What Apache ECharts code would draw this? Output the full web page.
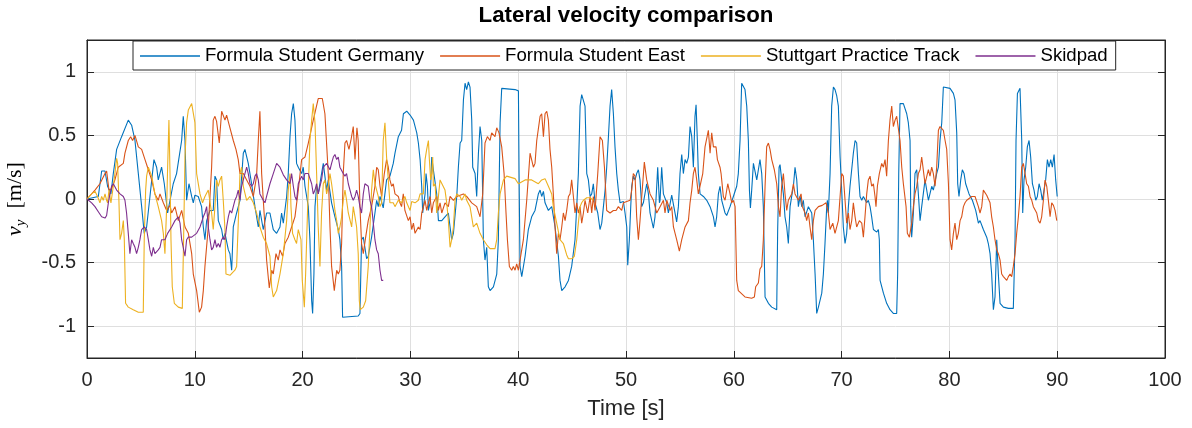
<!DOCTYPE html>
<html>
<head>
<meta charset="utf-8">
<script src="https://cdn.jsdelivr.net/npm/echarts@6/dist/echarts.min.js"></script>
<style>html,body{margin:0;padding:0;background:#fff}#chart{width:1192px;height:428px}</style>
</head>
<body>
<div id="chart"></div>
<script>
// ---- data (time [s], v_y [m/s]) ----
const xTicks = [0,10,20,30,40,50,60,70,80,90,100];
const yTicks = [-1,-0.5,0,0.5,1];
const seriesNames = ['Formula Student Germany','Formula Student East','Stuttgart Practice Track','Skidpad'];
const seriesColors = ['#0072BD','#D95319','#EDB120','#7E2F8E'];

const fsg = [[0,0],[1.05,0.02],[1.36,0.22],[1.67,0.22],[1.91,0.10],[2.22,0.04],[2.44,0.20],[2.75,0.39],[3.21,0.49],[3.83,0.62],[4.14,0.58],[4.45,0.46],[4.76,0.20],[5.07,-0.06],[5.31,-0.27],[5.53,-0.22],[5.84,0.02],[6.21,0.31],[6.46,0.25],[6.61,0.15],[6.92,0.25],[7.17,0.12],[7.48,-0.11],[7.70,-0.01],[8.00,0.12],[8.31,0.20],[8.78,0.46],[8.93,0.65],[9.09,0.46],[9.24,-0.01],[9.46,0.12],[9.71,0.02],[9.86,-0.03],[10.01,0.03],[10.32,0.02],[10.63,-0.06],[10.79,-0.22],[10.94,-0.32],[11.10,-0.17],[11.41,-0.09],[11.71,-0.09],[11.87,0.18],[12.02,0.15],[12.18,-0.17],[12.49,-0.24],[12.64,-0.32],[12.80,-0.27],[13.11,-0.40],[13.26,-0.43],[13.42,-0.56],[13.57,-0.22],[13.88,-0.11],[14.19,-0.01],[14.50,0.36],[14.65,0.39],[14.96,0.28],[15.27,0.12],[15.58,-0.06],[15.89,-0.22],[16.04,-0.09],[16.35,-0.24],[16.66,-0.11],[16.97,-0.11],[17.28,-0.24],[17.59,-0.27],[17.90,-0.22],[18.05,-0.11],[18.21,-0.19],[18.52,0.02],[18.67,0.20],[18.83,0.49],[18.98,0.67],[19.14,0.75],[19.29,0.62],[19.44,0.28],[19.60,0.25],[19.91,0.20],[20.06,0.25],[20.22,0.10],[20.53,-0.06],[20.68,-0.32],[20.84,-0.80],[20.93,-0.90],[21.05,-0.59],[21.15,-0.06],[21.30,0.10],[21.45,0.04],[21.76,0.20],[21.92,0.28],[22.23,0.07],[22.38,0.15],[22.69,-0.03],[23.00,-0.14],[23.31,-0.24],[23.46,-0.32],[23.62,-0.53],[23.71,-0.93],[25.16,-0.92],[25.32,-0.90],[25.47,-0.32],[25.63,-0.30],[25.94,-0.47],[26.09,-0.45],[26.40,-0.30],[26.71,-0.11],[26.87,-0.01],[27.02,-0.06],[27.18,0.02],[27.48,-0.07],[27.79,0.15],[28.10,0.18],[28.41,0.28],[28.57,0.36],[28.88,0.49],[29.18,0.54],[29.35,0.67],[29.66,0.69],[29.97,0.66],[30.28,0.62],[30.59,0.52],[30.74,0.44],[30.90,0.31],[31.05,0.10],[31.14,-0.11],[31.36,0.04],[31.45,0.20],[31.58,0.10],[31.67,-0.09],[31.82,-0.03],[31.98,0.33],[32.13,0.23],[32.44,0.04],[32.60,-0.17],[32.91,-0.17],[33.21,-0.14],[33.52,-0.11],[33.68,-0.22],[33.83,-0.32],[33.99,-0.27],[34.30,0.02],[34.45,0.25],[34.61,0.44],[34.76,0.46],[34.92,0.78],[35.07,0.91],[35.22,0.86],[35.38,0.92],[35.53,0.88],[35.69,0.62],[35.78,0.25],[36.00,0.20],[36.15,0.02],[36.31,0.36],[36.46,0.57],[36.62,0.46],[36.77,-0.32],[36.92,-0.48],[37.08,-0.38],[37.23,-0.69],[37.39,-0.72],[37.70,-0.69],[38.01,-0.59],[38.16,-0.32],[38.25,0.20],[38.32,0.60],[38.47,0.87],[39.71,0.86],[40.02,0.85],[40.08,0.20],[40.17,-0.53],[40.33,-0.61],[40.64,-0.45],[40.94,-0.24],[41.25,-0.14],[41.56,-0.09],[41.87,0.04],[42.03,0.07],[42.18,0.02],[42.34,0.06],[42.49,-0.03],[42.80,-0.09],[43.11,-0.06],[43.42,-0.22],[43.73,-0.45],[43.88,-0.64],[44.04,-0.72],[44.35,-0.69],[44.66,-0.64],[44.96,-0.53],[45.27,-0.32],[45.43,-0.06],[45.58,0.20],[45.74,0.73],[45.89,0.82],[46.20,0.73],[46.36,0.20],[46.51,0.15],[46.67,0.02],[46.82,0.04],[46.97,0.12],[47.13,-0.03],[47.38,-0.11],[47.59,-0.24],[47.75,-0.19],[48.06,0.07],[48.21,0.25],[48.37,0.49],[48.52,0.73],[48.67,0.86],[48.83,0.67],[48.98,0.41],[49.14,0.20],[49.29,0.07],[49.45,-0.03],[49.76,-0.02],[49.91,-0.11],[50.07,-0.22],[50.16,-0.52],[50.31,-0.32],[50.44,-0.06],[50.53,0.10],[50.68,0.18],[50.84,0.15],[50.99,0.20],[51.15,0.23],[51.30,0.15],[51.46,-0.06],[51.61,-0.03],[51.92,0.12],[52.08,0.04],[52.23,-0.11],[52.54,-0.23],[52.69,-0.14],[52.85,0.10],[52.94,0.25],[53.10,-0.03],[53.16,-0.01],[53.31,0.25],[53.47,0.04],[53.78,-0.03],[53.93,-0.11],[54.24,0.03],[54.40,0.02],[54.70,-0.18],[54.86,-0.06],[55.01,0.20],[55.17,0.35],[55.32,0.20],[55.48,0.31],[55.63,0.28],[55.79,0.33],[55.94,0.57],[56.10,0.49],[56.25,0.25],[56.40,0.65],[56.50,0.74],[56.62,0.46],[56.71,0.20],[56.87,0.04],[57.18,0.02],[57.49,-0.01],[57.80,-0.06],[58.11,-0.14],[58.26,-0.22],[58.41,-0.14],[58.57,0.04],[58.72,0.10],[58.88,-0.01],[59.19,-0.11],[59.34,-0.13],[59.65,-0.06],[59.96,0.02],[60.27,0.10],[60.42,0.20],[60.58,0.46],[60.73,0.91],[60.89,0.91],[61.04,0.86],[61.20,0.73],[61.35,0.46],[61.45,0.07],[61.54,-0.07],[61.66,0.07],[61.82,0.28],[61.97,0.28],[62.13,0.15],[62.28,0.23],[62.43,0.31],[62.59,0.20],[62.74,-0.06],[62.90,-0.77],[63.21,-0.82],[63.52,-0.85],[63.98,-0.87],[64.07,-0.24],[64.20,0.25],[64.29,0.27],[64.44,0.15],[64.60,0.04],[64.75,-0.14],[64.91,-0.22],[65.06,-0.35],[65.22,-0.06],[65.37,0.02],[65.53,0.10],[65.68,0.25],[65.84,0.15],[65.99,-0.06],[66.15,0.02],[66.30,-0.06],[66.45,-0.01],[66.61,-0.14],[66.92,-0.06],[67.23,-0.11],[67.38,-0.32],[67.54,-0.59],[67.69,-0.90],[67.85,-0.85],[68.16,-0.74],[68.31,-0.59],[68.46,-0.35],[68.62,-0.06],[68.68,-0.01],[68.77,-0.11],[68.93,0.20],[69.08,0.73],[69.24,0.88],[69.39,0.86],[69.55,0.81],[69.70,0.73],[69.86,0.33],[70.01,0.07],[70.16,-0.22],[70.32,-0.35],[70.47,-0.27],[70.63,-0.06],[70.78,0.10],[71.09,0.36],[71.25,0.46],[71.40,0.44],[71.56,0.20],[71.71,0.02],[71.87,-0.01],[72.02,0.02],[72.33,-0.03],[72.48,-0.01],[72.64,-0.06],[72.79,-0.14],[72.95,-0.24],[73.26,-0.26],[73.41,-0.24],[73.50,-0.32],[73.57,-0.64],[73.88,-0.74],[74.18,-0.82],[74.49,-0.87],[74.80,-0.90],[75.11,-0.90],[75.20,-0.59],[75.30,0.20],[75.42,0.75],[75.73,0.75],[76.04,0.67],[76.19,0.60],[76.35,0.46],[76.41,-0.06],[76.50,-0.30],[76.66,-0.11],[76.81,0.20],[76.97,0.23],[77.12,0.04],[77.28,-0.17],[77.43,-0.06],[77.74,0.15],[78.05,-0.01],[78.36,0.10],[78.51,0.07],[78.82,0.20],[78.98,0.25],[79.13,0.46],[79.29,0.60],[79.44,0.88],[80.06,0.87],[80.37,0.83],[80.52,0.78],[80.68,0.52],[80.77,0.12],[80.89,0.02],[81.05,0.15],[81.20,0.23],[81.36,0.20],[81.51,0.12],[81.82,0.04],[82.13,-0.01],[82.44,-0.09],[82.69,-0.19],[82.84,-0.17],[83.15,-0.24],[83.46,-0.30],[83.61,-0.35],[83.77,-0.43],[83.92,-0.59],[84.08,-0.87],[84.23,-0.77],[84.39,-0.32],[84.54,-0.59],[84.70,-0.82],[85.01,-0.85],[85.47,-0.86],[85.93,-0.86],[86.09,-0.32],[86.18,0.46],[86.31,0.83],[86.55,0.87],[86.71,0.46],[86.80,-0.11],[86.92,0.15],[87.08,0.25],[87.23,0.41],[87.39,0.46],[87.54,0.33],[87.70,0.12],[87.85,0.07],[88.01,-0.01],[88.16,0.02],[88.32,0.12],[88.47,0.07],[88.62,-0.01],[88.78,0.07],[88.93,0.15],[89.09,0.31],[89.24,0.25],[89.40,0.31],[89.55,0.25],[89.71,0.35],[89.86,0.15],[90.00,0.02]];

const fse = [[0,0],[0.74,0.07],[1.20,0.12],[1.67,0.20],[1.82,0.22],[2.04,0.07],[2.28,0.08],[2.59,0.15],[2.90,0.25],[3.37,0.28],[3.52,0.36],[3.83,0.46],[4.05,0.49],[4.23,0.46],[4.45,0.50],[4.76,0.41],[5.07,0.39],[5.38,0.31],[5.69,0.23],[6.00,0.15],[6.30,0.04],[6.61,-0.01],[6.77,0.04],[7.08,-0.03],[7.39,-0.09],[7.70,-0.05],[7.85,-0.11],[8.16,-0.06],[8.47,-0.17],[8.78,-0.09],[9.09,-0.22],[9.40,-0.27],[9.71,-0.43],[9.86,-0.59],[10.17,-0.72],[10.42,-0.89],[10.63,-0.85],[10.79,-0.72],[10.94,-0.53],[11.25,-0.22],[11.56,0.25],[11.71,0.62],[11.87,0.65],[12.02,0.61],[12.27,0.44],[12.49,0.69],[12.80,0.62],[12.95,0.66],[13.11,0.65],[13.26,0.56],[13.42,0.57],[13.57,0.46],[13.82,0.39],[14.03,0.31],[14.19,0.20],[14.50,0.20],[14.81,0.15],[15.12,0.10],[15.43,0.02],[15.73,0.18],[15.89,0.46],[16.04,0.69],[16.20,0.20],[16.51,-0.22],[16.66,-0.48],[16.91,-0.70],[17.13,-0.56],[17.28,-0.59],[17.53,-0.43],[17.74,-0.48],[17.90,-0.40],[18.15,-0.45],[18.36,-0.35],[18.67,-0.30],[18.98,-0.22],[19.29,-0.14],[19.60,0.07],[19.91,0.31],[20.22,0.33],[20.53,0.44],[20.99,0.62],[21.45,0.79],[21.83,0.79],[22.07,0.67],[22.38,0.20],[22.54,-0.22],[22.69,-0.53],[22.94,-0.72],[23.16,-0.56],[23.31,-0.59],[23.46,-0.56],[23.62,-0.35],[23.77,0.20],[23.93,0.44],[24.08,0.46],[24.30,0.39],[24.48,0.46],[24.70,0.57],[24.86,0.31],[25.04,0.56],[25.16,0.46],[25.32,-0.06],[25.47,-0.35],[25.63,-0.43],[25.85,-0.30],[26.09,-0.17],[26.40,-0.06],[26.71,0.10],[26.87,0.25],[27.02,0.23],[27.18,0.10],[27.33,0.02],[27.58,0.20],[27.79,0.31],[27.95,0.25],[28.10,0.15],[28.26,0.10],[28.41,0.12],[28.57,0.04],[28.88,0.02],[29.03,-0.03],[29.18,-0.06],[29.34,0.04],[29.49,-0.09],[29.81,-0.17],[29.97,-0.14],[30.12,-0.24],[30.28,-0.19],[30.43,-0.27],[30.74,-0.22],[30.90,-0.24],[31.05,-0.11],[31.36,-0.01],[31.51,-0.09],[31.82,0.02],[31.98,-0.11],[32.13,-0.03],[32.44,0.02],[32.60,-0.09],[32.75,-0.03],[32.91,-0.11],[33.21,-0.03],[33.52,-0.06],[33.68,0.02],[33.99,-0.01],[34.30,0.02],[34.92,0.04],[35.22,0.02],[35.38,0.03],[35.69,-0.03],[36.15,-0.06],[36.46,-0.14],[36.71,0.04],[36.92,0.44],[37.14,0.49],[37.39,0.46],[37.54,0.52],[37.85,0.49],[38.01,0.56],[38.22,0.52],[38.47,0.41],[38.69,0.20],[38.87,-0.11],[39.00,-0.32],[39.18,-0.53],[39.40,-0.56],[39.55,-0.53],[39.71,-0.56],[39.86,-0.51],[40.02,-0.56],[40.17,-0.48],[40.48,-0.32],[40.79,-0.01],[41.10,0.36],[41.25,0.36],[41.41,0.25],[41.56,0.28],[41.72,0.46],[42.03,0.65],[42.18,0.67],[42.34,0.49],[42.49,0.67],[42.65,0.69],[42.80,0.62],[42.95,0.39],[43.11,0.25],[43.26,0.04],[43.42,-0.22],[43.57,-0.43],[43.73,-0.27],[43.88,-0.32],[44.04,-0.22],[44.19,-0.11],[44.35,-0.17],[44.50,-0.09],[44.66,0.02],[44.81,0.04],[44.96,0.15],[45.12,0.02],[45.27,-0.11],[45.43,-0.03],[45.58,-0.11],[45.74,-0.06],[45.89,-0.19],[46.05,-0.11],[46.20,-0.01],[46.45,-0.11],[46.67,0.02],[46.82,-0.11],[46.97,0.02],[47.13,-0.09],[47.38,0.20],[47.59,0.49],[47.81,0.46],[48.00,0.25],[48.21,-0.09],[48.52,-0.11],[48.83,-0.09],[49.08,-0.09],[49.29,-0.06],[49.60,-0.09],[49.76,-0.03],[50.38,-0.01],[50.53,0.07],[50.68,0.20],[50.84,0.18],[50.99,-0.14],[51.15,-0.32],[51.30,-0.17],[51.46,0.02],[51.70,0.29],[51.92,0.15],[52.23,0.04],[52.54,-0.01],[52.85,-0.11],[53.16,-0.06],[53.47,-0.01],[53.62,-0.11],[53.78,-0.01],[54.09,-0.09],[54.24,-0.06],[54.40,-0.22],[54.70,-0.32],[54.95,-0.41],[55.17,-0.32],[55.48,-0.22],[55.79,-0.17],[55.94,-0.03],[56.10,0.07],[56.25,0.20],[56.40,0.25],[56.56,0.15],[56.71,0.04],[56.87,0.04],[57.12,0.20],[57.33,0.41],[57.64,0.54],[57.80,0.36],[57.95,0.52],[58.11,0.41],[58.35,0.41],[58.48,0.31],[58.72,0.25],[58.82,0.20],[59.03,0.02],[59.19,-0.01],[59.44,0.12],[59.65,0.04],[59.81,-0.03],[59.96,-0.01],[60.12,-0.06],[60.27,-0.64],[60.42,-0.72],[61.04,-0.77],[61.66,-0.78],[61.91,-0.77],[62.03,-0.69],[62.28,-0.66],[62.43,-0.55],[62.59,-0.53],[62.74,-0.32],[62.90,0.10],[63.05,0.41],[63.21,0.44],[63.36,0.39],[63.52,0.31],[63.76,0.23],[63.98,0.12],[64.14,-0.06],[64.29,-0.14],[64.44,0.10],[64.60,0.20],[64.75,0.04],[64.91,-0.09],[65.06,-0.01],[65.37,0.04],[65.53,0.12],[65.68,0.04],[65.99,-0.01],[66.24,0.04],[66.36,-0.06],[66.61,-0.11],[66.76,-0.17],[66.92,-0.11],[67.07,-0.22],[67.23,-0.32],[67.38,-0.17],[67.54,-0.09],[67.85,-0.06],[68.20,-0.05],[68.56,-0.03],[68.77,-0.11],[68.93,-0.24],[69.18,-0.19],[69.39,-0.27],[69.70,-0.17],[69.86,0.02],[70.01,0.20],[70.16,0.18],[70.32,-0.01],[70.47,-0.19],[70.63,-0.11],[70.78,-0.24],[70.94,-0.17],[71.09,-0.03],[71.25,-0.14],[71.40,-0.22],[71.65,-0.17],[71.87,-0.19],[72.02,-0.30],[72.17,-0.14],[72.33,0.04],[72.48,0.15],[72.64,0.18],[72.79,0.10],[72.95,0.12],[73.10,0.02],[73.19,-0.06],[73.32,0.10],[73.50,0.20],[73.72,0.28],[73.88,0.25],[74.03,0.31],[74.18,0.18],[74.34,0.46],[74.49,0.62],[74.65,0.73],[74.80,0.57],[74.96,0.62],[75.11,0.65],[75.27,0.64],[75.42,0.46],[75.58,0.25],[75.73,0.12],[75.98,-0.06],[76.10,-0.27],[76.29,-0.30],[76.50,-0.19],[76.66,-0.06],[76.81,0.04],[76.97,0.10],[77.12,0.20],[77.28,0.23],[77.43,0.33],[77.59,0.33],[77.74,0.12],[78.05,0.23],[78.20,0.18],[78.36,0.25],[78.51,0.20],[78.67,0.10],[78.82,0.25],[78.98,0.54],[79.13,0.57],[79.29,0.58],[79.44,0.54],[79.60,0.46],[79.75,0.39],[79.91,0.12],[80.06,-0.32],[80.21,-0.40],[80.37,-0.27],[80.52,-0.19],[80.68,-0.32],[80.83,-0.27],[80.99,-0.17],[81.14,-0.14],[81.30,-0.06],[81.45,-0.03],[81.61,-0.01],[82.07,0.02],[82.38,0.02],[82.69,-0.06],[82.84,-0.11],[83.00,-0.06],[83.15,0.07],[83.31,0.08],[83.46,0.03],[83.61,0.04],[83.77,-0.03],[83.92,-0.14],[84.08,-0.22],[84.23,-0.32],[84.39,-0.40],[84.54,-0.43],[84.70,-0.48],[84.85,-0.59],[85.01,-0.61],[85.16,-0.61],[85.32,-0.64],[85.47,-0.61],[85.63,-0.59],[85.78,-0.61],[85.93,-0.53],[86.09,-0.43],[86.24,-0.27],[86.40,-0.14],[86.55,0.02],[86.71,0.25],[86.86,0.28],[87.02,0.20],[87.17,0.12],[87.33,0.10],[87.48,0.02],[87.64,-0.01],[87.79,-0.06],[88.10,-0.11],[88.25,-0.17],[88.41,-0.19],[88.56,-0.14],[88.72,-0.01],[88.87,0.15],[89.03,0.10],[89.18,-0.01],[89.34,-0.14],[89.49,-0.03],[89.65,-0.05],[89.80,-0.09],[89.96,-0.17]];

const spt = [[0,0],[0.43,0.04],[0.74,0.06],[0.98,0.02],[1.20,-0.03],[1.36,0.02],[1.51,-0.01],[1.67,0.04],[1.82,-0.01],[1.91,-0.03],[2.04,0.07],[2.22,-0.03],[2.44,0.10],[2.59,0.20],[2.75,0.32],[2.84,0.28],[2.96,-0.01],[3.06,-0.32],[3.21,-0.27],[3.37,-0.17],[3.46,-0.32],[3.58,-0.82],[3.83,-0.85],[4.29,-0.87],[4.76,-0.89],[5.22,-0.89],[5.31,-0.32],[5.44,0.07],[5.53,0.18],[5.69,0.25],[6.00,0.18],[6.30,0.04],[6.61,-0.06],[6.92,-0.17],[7.08,-0.27],[7.23,-0.43],[7.39,-0.06],[7.48,0.25],[7.60,0.62],[7.70,0.20],[7.79,-0.32],[7.91,-0.69],[8.10,-0.82],[8.47,-0.85],[8.84,-0.86],[8.96,-0.32],[9.09,0.33],[9.24,0.60],[9.40,0.70],[9.71,0.75],[9.86,0.75],[10.01,0.60],[10.17,0.20],[10.48,0.04],[10.72,-0.03],[10.94,0.02],[11.25,0.07],[11.56,-0.11],[11.71,-0.24],[11.87,-0.06],[12.02,0.15],[12.18,0.10],[12.33,0.15],[12.49,0.18],[12.64,-0.01],[12.80,-0.24],[12.89,-0.59],[13.26,-0.60],[13.72,-0.56],[13.88,-0.53],[14.03,-0.19],[14.19,0.20],[14.34,0.25],[14.50,0.10],[14.81,-0.01],[15.12,0.02],[15.43,-0.03],[15.73,-0.11],[16.04,-0.22],[16.35,-0.30],[16.66,-0.35],[16.97,-0.45],[17.13,-0.69],[17.28,-0.77],[17.59,-0.72],[17.90,-0.59],[18.21,-0.43],[18.52,-0.17],[18.67,0.07],[18.83,0.20],[18.92,-0.06],[19.07,-0.27],[19.29,-0.32],[19.44,-0.35],[19.60,-0.24],[19.85,-0.32],[19.97,-0.64],[20.16,-0.85],[20.28,-0.59],[20.47,-0.06],[20.68,0.46],[20.84,0.62],[20.99,0.75],[21.15,0.60],[21.30,0.20],[21.45,-0.22],[21.61,-0.53],[21.76,-0.11],[21.92,0.12],[22.07,0.15],[22.23,0.04],[22.38,0.10],[22.54,0.20],[22.69,0.12],[22.85,0.02],[23.00,-0.09],[23.16,-0.17],[23.31,-0.27],[23.46,-0.22],[23.62,-0.14],[23.77,-0.01],[23.93,0.07],[24.08,-0.01],[24.24,-0.11],[24.55,-0.22],[24.70,-0.06],[24.86,-0.14],[25.01,-0.22],[25.16,-0.43],[25.26,-0.80],[25.35,-0.87],[25.63,-0.85],[25.85,-0.80],[26.09,-0.53],[26.25,-0.22],[26.40,0.07],[26.56,0.23],[26.71,0.12],[27.02,0.02],[27.18,-0.06],[27.33,-0.03],[27.48,0.46],[27.64,0.60],[27.79,0.33],[27.95,0.15],[28.10,-0.03],[28.41,-0.03],[28.57,-0.06],[28.88,-0.01],[29.18,-0.03],[29.49,0.02],[29.66,-0.03],[29.97,-0.09],[30.12,-0.02],[30.43,-0.03],[30.74,-0.01],[30.90,0.04],[31.20,0.04],[31.36,0.31],[31.51,0.39],[31.67,0.46],[31.76,0.31],[31.88,0.15],[31.98,0.20],[32.07,0.33],[32.13,0.10],[32.29,0.12],[32.44,-0.11],[32.60,0.02],[32.75,0.15],[32.91,0.16],[33.21,0.07],[33.37,-0.03],[33.52,-0.17],[33.68,-0.38],[33.83,-0.32],[33.99,-0.22],[34.14,-0.01],[34.30,0.04],[34.61,0.02],[34.76,-0.01],[35.07,0.04],[35.22,-0.01],[35.53,-0.06],[35.84,-0.22],[36.15,-0.19],[36.46,-0.27],[36.77,-0.32],[37.08,-0.36],[37.39,-0.39],[37.85,-0.39],[38.01,-0.32],[38.16,-0.11],[38.32,0.04],[38.63,0.15],[38.93,0.18],[39.71,0.16],[40.02,0.12],[40.64,0.15],[41.25,0.15],[41.87,0.12],[42.18,0.15],[42.49,0.16],[42.80,0.10],[43.11,0.04],[43.26,-0.06],[43.57,-0.19],[43.88,-0.32],[44.19,-0.35],[44.50,-0.44],[44.66,-0.47],[44.96,-0.47],[45.21,-0.45],[45.43,-0.32],[45.58,-0.19],[45.74,-0.06],[45.89,-0.03],[46.05,-0.01],[46.36,0.01],[46.67,0.01],[46.97,-0.01]];

const skid = [[0,0],[0.43,-0.03],[0.74,-0.06],[1.05,-0.10],[1.36,-0.14],[1.67,-0.15],[1.82,-0.13],[1.98,-0.03],[2.13,0.04],[2.28,0.10],[2.44,0.12],[2.75,0.07],[3.06,0.04],[3.37,0.02],[3.52,-0.01],[3.67,-0.11],[3.83,-0.27],[3.98,-0.43],[4.14,-0.32],[4.29,-0.35],[4.45,-0.38],[4.60,-0.43],[4.76,-0.38],[4.91,-0.32],[5.07,-0.24],[5.31,-0.22],[5.53,-0.24],[5.69,-0.32],[5.84,-0.40],[6.00,-0.45],[6.15,-0.38],[6.30,-0.43],[6.61,-0.40],[6.77,-0.38],[6.92,-0.32],[7.23,-0.32],[7.48,-0.27],[7.85,-0.22],[8.16,-0.17],[8.47,-0.14],[8.63,-0.19],[8.78,-0.32],[9.09,-0.45],[9.24,-0.32],[9.40,-0.30],[9.71,-0.30],[9.86,-0.30],[10.17,-0.27],[10.48,-0.22],[10.79,-0.14],[10.94,-0.11],[11.10,-0.06],[11.25,-0.22],[11.41,-0.32],[11.56,-0.40],[11.71,-0.38],[11.87,-0.32],[12.02,-0.38],[12.18,-0.35],[12.33,-0.38],[12.49,-0.32],[12.64,-0.30],[12.80,-0.32],[12.95,-0.22],[13.11,-0.14],[13.26,-0.09],[13.42,-0.11],[13.57,-0.06],[13.72,-0.01],[13.88,0.02],[14.03,0.07],[14.19,-0.01],[14.34,0.10],[14.50,0.15],[14.65,0.20],[14.81,0.25],[14.96,0.20],[15.12,0.12],[15.27,0.10],[15.43,0.12],[15.58,0.18],[15.73,0.20],[15.89,0.15],[16.04,0.04],[16.35,-0.01],[16.51,-0.03],[16.66,0.02],[16.97,0.12],[17.28,0.20],[17.59,0.28],[17.74,0.29],[17.90,0.25],[18.21,0.19],[18.52,0.15],[18.83,0.12],[18.98,0.20],[19.14,0.10],[19.29,0.02],[19.44,-0.01],[19.60,0.12],[19.75,0.15],[19.91,0.18],[20.06,0.15],[20.22,0.20],[20.53,0.20],[20.84,0.12],[20.99,0.04],[21.15,0.07],[21.30,0.12],[21.45,0.04],[21.61,0.10],[21.76,0.15],[21.92,0.25],[22.23,0.28],[22.54,0.23],[22.69,0.28],[22.85,0.33],[23.00,0.35],[23.16,0.31],[23.31,0.33],[23.46,0.25],[23.77,0.20],[23.93,0.18],[24.08,0.20],[24.24,0.12],[24.55,0.02],[24.70,-0.01],[24.86,0.02],[25.01,0.07],[25.16,0.02],[25.32,-0.06],[25.47,-0.11],[25.63,0.04],[25.78,0.12],[26.09,0.10],[26.25,-0.01],[26.40,-0.06],[26.56,-0.19],[26.71,-0.32],[26.87,-0.40],[27.02,-0.43],[27.18,-0.56],[27.33,-0.64],[27.48,-0.64]];

const seriesData = [fsg, fse, spt, skid];

// ---- chart ----
const chart = echarts.init(document.getElementById('chart'), null, {renderer: 'canvas'});
const axisColor = '#262626';
const gridColor = '#dfdfdf';
const sans = '"Liberation Sans", Arial, Helvetica, sans-serif';
const serif = '"Liberation Serif", "DejaVu Serif", serif';

const option = {
  animation: false,
  backgroundColor: '#ffffff',
  title: {
    text: 'Lateral velocity comparison',
    left: 626, top: 5, padding: 0, textAlign: 'center',
    textStyle: {fontFamily: sans, fontSize: 22.3, fontWeight: 'bold', color: '#000'}
  },
  legend: {
    data: seriesNames,
    left: 133, top: 41,
    padding: [5, 8, 4, 7],
    itemGap: 16, itemWidth: 60, itemHeight: 1.5,
    icon: 'rect',
    backgroundColor: '#ffffff',
    borderColor: axisColor, borderWidth: 1, borderRadius: 0,
    textStyle: {fontFamily: sans, fontSize: 18.6, color: '#000', lineHeight: 20}
  },
  grid: {left: 87, right: 27, top: 40, bottom: 70, show: true, borderColor: axisColor, borderWidth: 1, backgroundColor: 'transparent', containLabel: false, outerBoundsMode: 'none'},
  xAxis: [{
    type: 'value', min: 0, max: 100, interval: 10,
    axisLine: {show: true, onZero: false, lineStyle: {color: axisColor, width: 1}},
    axisTick: {show: true, inside: true, length: 7, lineStyle: {color: axisColor}},
    axisLabel: {customValues: xTicks, fontFamily: sans, fontSize: 20, color: axisColor, margin: 12},
    splitLine: {show: true, lineStyle: {color: gridColor, width: 1}},
    name: 'Time [s]', nameLocation: 'middle', nameGap: 40,
    nameTextStyle: {fontFamily: sans, fontSize: 22, color: axisColor}
  }, {
    type: 'value', min: 0, max: 100, interval: 10, position: 'top',
    axisLine: {show: true, onZero: false, lineStyle: {color: axisColor, width: 1}},
    axisTick: {show: true, inside: true, length: 7, lineStyle: {color: axisColor}},
    axisLabel: {show: false}, splitLine: {show: false}
  }],
  yAxis: [{
    type: 'value', min: -1.25, max: 1.25,
    axisLine: {show: true, onZero: false, lineStyle: {color: axisColor, width: 1}},
    axisTick: {show: true, inside: true, length: 7, customValues: yTicks, lineStyle: {color: axisColor}},
    axisLabel: {customValues: yTicks, fontFamily: sans, fontSize: 20, color: axisColor, margin: 11},
    splitLine: {show: true, lineStyle: {color: gridColor, width: 1}},
    name: '{i|v}{s|y}{n|  [m/s]}', nameLocation: 'middle', nameRotate: 90, nameGap: 46,
    nameTextStyle: {
      rich: {
        i: {fontFamily: serif, fontStyle: 'italic', fontSize: 22, color: '#000', lineHeight: 30, verticalAlign: 'middle'},
        s: {fontFamily: serif, fontStyle: 'italic', fontSize: 15, color: '#000', lineHeight: 30, verticalAlign: 'bottom', padding: [0, 0, 2, 0]},
        n: {fontFamily: serif, fontSize: 22, color: '#000', lineHeight: 30, verticalAlign: 'middle'}
      }
    }
  }, {
    type: 'value', min: -1.25, max: 1.25, position: 'right',
    axisLine: {show: true, onZero: false, lineStyle: {color: axisColor, width: 1}},
    axisTick: {show: true, inside: true, length: 7, customValues: yTicks, lineStyle: {color: axisColor}},
    axisLabel: {show: false}, splitLine: {show: false}
  }],
  series: seriesNames.map((name, i) => ({
    name: name,
    type: 'line',
    xAxisIndex: 0, yAxisIndex: 0,
    data: seriesData[i],
    showSymbol: false, symbol: 'none',
    smooth: false,
    color: seriesColors[i],
    lineStyle: {color: seriesColors[i], width: 1.1},
    itemStyle: {color: seriesColors[i]},
    emphasis: {disabled: true},
    z: 2 + i
  }))
};
chart.setOption(option);
</script>
</body>
</html>
